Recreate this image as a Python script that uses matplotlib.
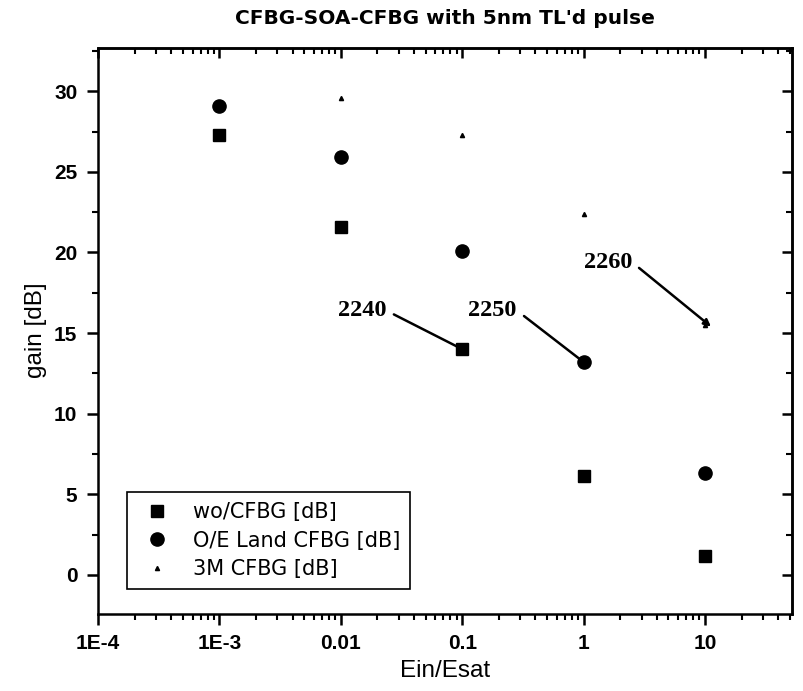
import matplotlib
matplotlib.use("Agg")
import matplotlib.pyplot as plt
from matplotlib.ticker import MultipleLocator, FixedLocator, NullFormatter

# data
ein_esat = [1e-3, 1e-2, 1e-1, 1, 10]
wo_cfbg = [27.3, 21.6, 14.0, 6.15, 1.2]
oe_land = [29.1, 25.9, 20.1, 13.2, 6.3]
x_3m = [1e-2, 1e-1, 1, 10]
cfbg_3m = [29.6, 27.3, 22.4, 15.5]

xticks = [1e-4, 1e-3, 1e-2, 1e-1, 1, 10]
xticklabels = ["1E-4", "1E-3", "0.01", "0.1", "1", "10"]

notes = ["2240", "2250", "2260"]
note_xy = [(0.1, 14.0), (1, 13.2), (11.2, 15.4)]
note_text = [(0.0149, 16.4), (0.178, 16.4), (1.58, 19.4)]
note_arrow = ["-", "-", "-|>"]

fig = plt.figure(figsize=(8.04, 6.91), dpi=100)
ax = fig.add_axes([0.122, 0.112, 0.863, 0.819])

ax.plot(ein_esat, wo_cfbg, ls="none", marker="s", ms=8, color="black",
        label="wo/CFBG [dB]", zorder=5)
ax.plot(ein_esat, oe_land, ls="none", marker="o", ms=9.5, color="black",
        label="O/E Land CFBG [dB]", zorder=5)
ax.plot(x_3m, cfbg_3m, ls="none", marker="^", ms=3, color="black",
        label="3M CFBG [dB]", zorder=5)

for t, xy, xyt, st in zip(notes, note_xy, note_text, note_arrow):
    ax.annotate(t, xy=xy, xytext=xyt, ha="center", va="center",
                fontsize=17.5, fontweight="bold", family="Liberation Serif",
                arrowprops=dict(arrowstyle=st, color="black", lw=1.8,
                                mutation_scale=10, shrinkA=4, shrinkB=0,
                                relpos=(1, 0.5)))

ax.set_xscale("log")
ax.set_xlim(1e-4, 52)
ax.set_ylim(-2.4, 32.7)
ax.xaxis.set_major_locator(FixedLocator(xticks))
ax.set_xticklabels(xticklabels)
ax.xaxis.set_minor_formatter(NullFormatter())
ax.yaxis.set_major_locator(MultipleLocator(5))
ax.yaxis.set_minor_locator(MultipleLocator(2.5))

for lab in ax.get_xticklabels() + ax.get_yticklabels():
    lab.set_family("Liberation Sans")
    lab.set_fontsize(15)
    lab.set_fontweight("bold")

ax.tick_params(which="major", direction="out", length=8, width=1.8, pad=7)
ax.tick_params(which="minor", direction="out", length=4.5, width=1.5)
for s in ax.spines.values():
    s.set_linewidth(1.8)

top = ax.secondary_xaxis("top")
top.xaxis.set_major_locator(FixedLocator(xticks))
top.tick_params(which="major", direction="in", length=7, width=1.8, labeltop=False)
top.tick_params(which="minor", direction="in", length=4, width=1.5)
top.xaxis.set_minor_formatter(NullFormatter())
right = ax.secondary_yaxis("right")
right.yaxis.set_major_locator(MultipleLocator(5))
right.yaxis.set_minor_locator(MultipleLocator(2.5))
right.tick_params(which="major", direction="in", length=7, width=1.8, labelright=False)
right.tick_params(which="minor", direction="in", length=4, width=1.5)
top.spines["top"].set_linewidth(1.8)
right.spines["right"].set_linewidth(1.8)

ax.set_xlabel("Ein/Esat", family="Liberation Sans", fontsize=17.5, labelpad=5)
ax.set_ylabel("gain [dB]", family="Liberation Sans", fontsize=17.5, labelpad=5)
ax.set_title("CFBG-SOA-CFBG with 5nm TL'd pulse", fontsize=14.5,
             fontweight="bold", pad=17)

leg = ax.legend(loc="lower left", bbox_to_anchor=(0.042, 0.044),
                borderaxespad=0, fancybox=False, edgecolor="black",
                framealpha=1, fontsize=15, handletextpad=0.72,
                labelspacing=0.42, borderpad=0.45)
leg.get_frame().set_linewidth(1.2)

fig.savefig("out.png", dpi=100)
